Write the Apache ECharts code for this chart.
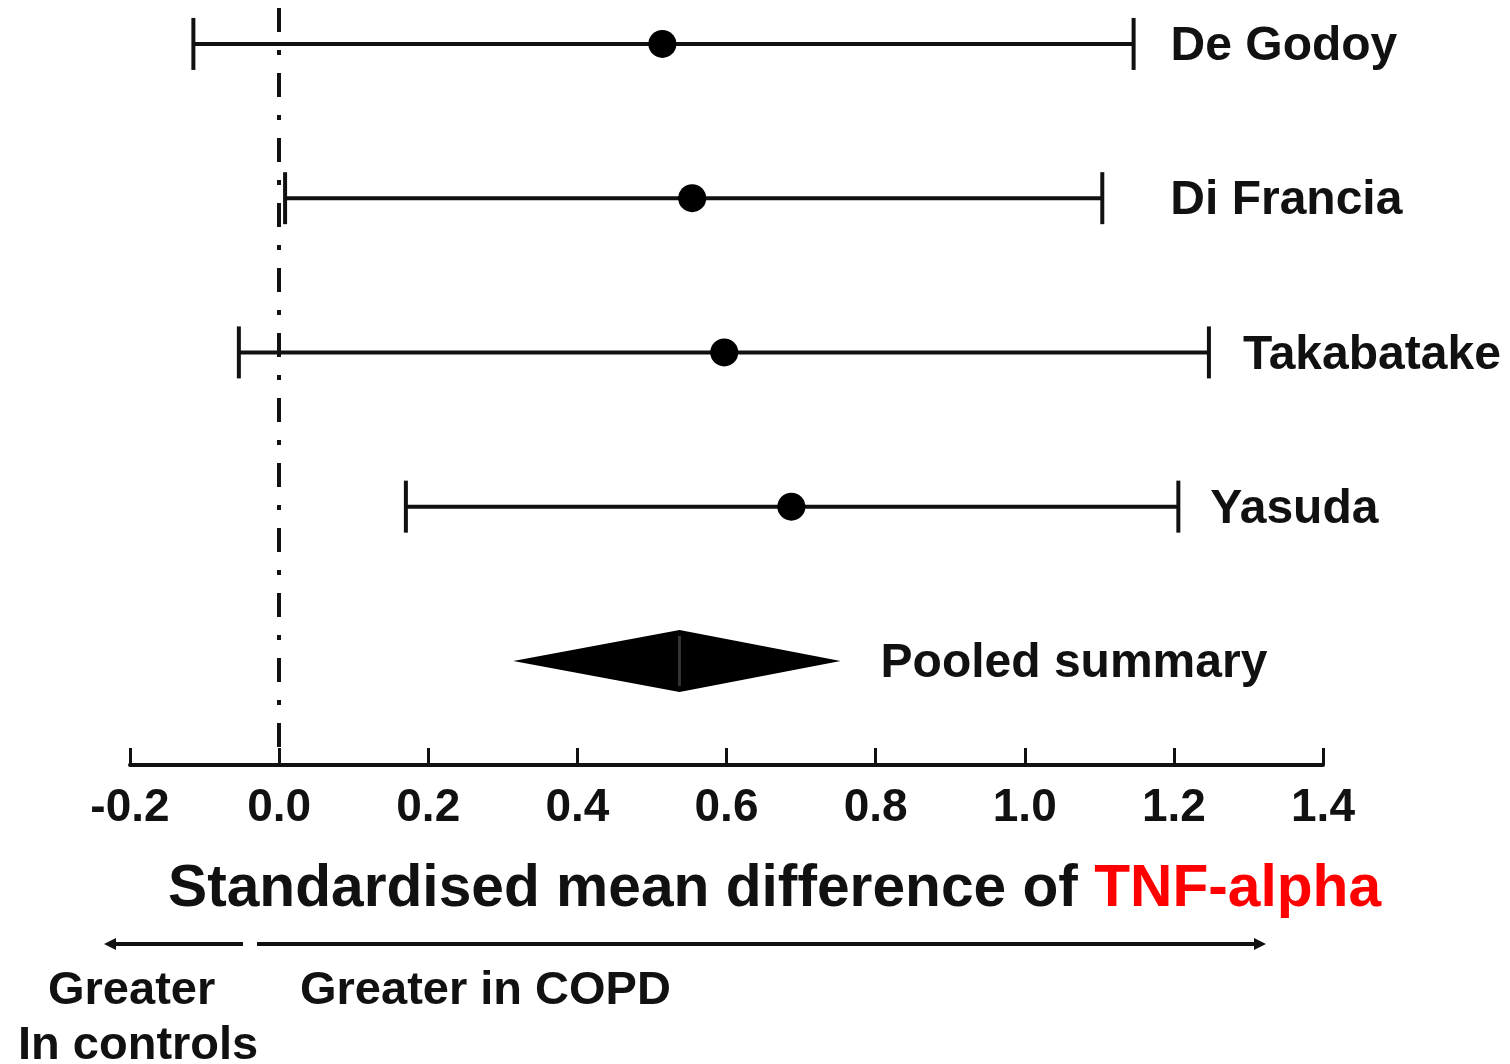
<!DOCTYPE html>
<html>
<head>
<meta charset="utf-8">
<script src="https://cdn.jsdelivr.net/npm/echarts@6/dist/echarts.min.js"></script>
<style>
  html, body { margin: 0; padding: 0; background: #fff; }
  #chart { width: 1510px; height: 1064px; }
</style>
</head>
<body>
<div id="chart"></div>
<script>
// study rows, top to bottom
var studies = ['De Godoy', 'Di Francia', 'Takabatake', 'Yasuda']
var smd = [0.514, 0.554, 0.597, 0.687]
var lower = [-0.115, 0.008, -0.054, 0.170]
var upper = [1.146, 1.104, 1.247, 1.206]

// pooled estimate (diamond)
var pooledName = 'Pooled summary'
var pooledEst = 0.537
var pooledLower = 0.314
var pooledUpper = 0.753

var xTicks = [-0.2, 0.0, 0.2, 0.4, 0.6, 0.8, 1.0, 1.2, 1.4]

// pixel gap between CI end and its label
var labelGap = [37, 68, 34, 32, 40]

var FONT = '"Liberation Sans", Arial, sans-serif'
var INK = '#111'

var chart = echarts.init(document.getElementById('chart'))

var ciData = studies.map(function (s, i) { return [lower[i], upper[i], i] })
var ptData = studies.map(function (s, i) { return [smd[i], i] })
var labelData = studies.map(function (s, i) { return [upper[i], i, s, labelGap[i]] })
labelData.push([pooledUpper, studies.length, pooledName, labelGap[studies.length]])

function txt(text, x, y, size) {
  return {
    type: 'text', x: x, y: y,
    style: { text: text, fontFamily: FONT, fontSize: size, fontWeight: 'bold', fill: INK, verticalAlign: 'middle' }
  }
}

chart.setOption({
  animation: false,
  grid: { left: 130, width: 1193, top: 8, height: 757, containLabel: false },
  xAxis: {
    type: 'value',
    position: 'bottom',
    min: xTicks[0],
    max: xTicks[xTicks.length - 1],
    interval: 0.2,
    splitLine: { show: false },
    axisLine: { onZero: false, lineStyle: { color: INK, width: 4 } },
    axisTick: { inside: true, length: 17, lineStyle: { color: INK, width: 3 } },
    axisLabel: {
      margin: 20,
      fontFamily: FONT,
      fontSize: 46,
      fontWeight: 'bold',
      color: INK,
      formatter: function (v) { return v.toFixed(1) }
    }
  },
  yAxis: {
    type: 'value',
    inverse: true,
    min: -0.233,
    max: 4.675,
    show: false
  },
  series: [
    {
      type: 'custom',
      data: ciData,
      renderItem: function (params, api) {
        var a = api.coord([api.value(0), api.value(2)])
        var b = api.coord([api.value(1), api.value(2)])
        var h = 26
        var st = { stroke: INK, lineWidth: 4 }
        return {
          type: 'group',
          children: [
            { type: 'line', shape: { x1: a[0], y1: a[1], x2: b[0], y2: b[1] }, style: st },
            { type: 'line', shape: { x1: a[0], y1: a[1] - h, x2: a[0], y2: a[1] + h }, style: st },
            { type: 'line', shape: { x1: b[0], y1: b[1] - h, x2: b[0], y2: b[1] + h }, style: st }
          ]
        }
      },
      markLine: {
        silent: true,
        symbol: 'none',
        label: { show: false },
        lineStyle: { color: INK, width: 4, type: [24, 18, 5, 18] },
        data: [{ xAxis: 0 }]
      },
      z: 2
    },
    {
      type: 'scatter',
      data: ptData,
      symbol: 'circle',
      symbolSize: 28,
      itemStyle: { color: '#000', opacity: 1 },
      z: 3
    },
    {
      type: 'custom',
      data: [[pooledLower, pooledEst, pooledUpper, studies.length]],
      renderItem: function (params, api) {
        var l = api.coord([api.value(0), api.value(3)])
        var m = api.coord([api.value(1), api.value(3)])
        var r = api.coord([api.value(2), api.value(3)])
        var h = 31
        return {
          type: 'group',
          children: [
            {
              type: 'polygon',
              shape: { points: [[l[0], l[1]], [m[0], m[1] - h], [r[0], r[1]], [m[0], m[1] + h]] },
              style: { fill: '#000' }
            },
            {
              type: 'line',
              shape: { x1: m[0], y1: m[1] - h + 6, x2: m[0], y2: m[1] + h - 6 },
              style: { stroke: '#333', lineWidth: 3 }
            }
          ]
        }
      },
      z: 3
    },
    {
      type: 'custom',
      data: labelData,
      renderItem: function (params, api) {
        var p = api.coord([api.value(0), api.value(1)])
        return {
          type: 'text',
          x: p[0] + api.value(3),
          y: p[1] + 3,
          style: {
            text: labelData[params.dataIndex][2],
            fontFamily: FONT,
            fontSize: 48,
            fontWeight: 'bold',
            fill: INK,
            verticalAlign: 'middle',
            align: 'left'
          }
        }
      },
      z: 4
    }
  ],
  graphic: [
    {
      type: 'text',
      x: 168,
      y: 890,
      style: {
        text: '{k|Standardised mean difference of }{r|TNF-alpha}',
        verticalAlign: 'middle',
        rich: {
          k: { fontFamily: FONT, fontSize: 58.7, fontWeight: 'bold', fill: INK },
          r: { fontFamily: FONT, fontSize: 58.7, fontWeight: 'bold', fill: '#ff0000' }
        }
      }
    },
    { type: 'line', shape: { x1: 243, y1: 944, x2: 112, y2: 944 }, style: { stroke: INK, lineWidth: 4 } },
    { type: 'polygon', shape: { points: [[104, 944], [116, 938], [116, 950]] }, style: { fill: INK } },
    { type: 'line', shape: { x1: 257, y1: 944, x2: 1255, y2: 944 }, style: { stroke: INK, lineWidth: 4 } },
    { type: 'polygon', shape: { points: [[1266, 944], [1254, 938], [1254, 950]] }, style: { fill: INK } },
    txt('Greater', 48, 991, 47),
    txt('In controls', 18, 1046, 47),
    txt('Greater in COPD', 300, 991, 47)
  ]
})
</script>
</body>
</html>
